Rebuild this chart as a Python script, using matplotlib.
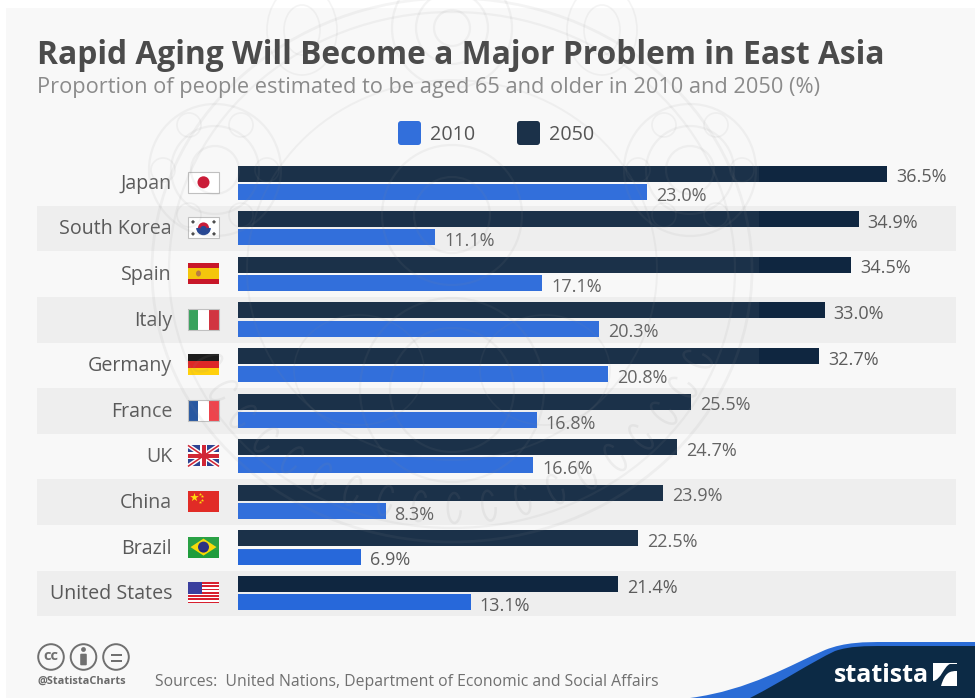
import numpy as np
import matplotlib
matplotlib.use("Agg")
import matplotlib.pyplot as plt
from matplotlib.patches import Rectangle, Circle, Ellipse, Arc, Polygon, FancyBboxPatch, PathPatch
from matplotlib.path import Path
from matplotlib.transforms import ScaledTranslation

countries = ["Japan", "South Korea", "Spain", "Italy", "Germany",
             "France", "UK", "China", "Brazil", "United States"]
share_2050 = [36.5, 34.9, 34.5, 33.0, 32.7, 25.5, 24.7, 23.9, 22.5, 21.4]
share_2010 = [23.0, 11.1, 17.1, 20.3, 20.8, 16.8, 16.6, 8.3, 6.9, 13.1]
series_names = ["2010", "2050"]

title = "Rapid Aging Will Become a Major Problem in East Asia"
subtitle = "Proportion of people estimated to be aged 65 and older in 2010 and 2050 (%)"
source = "Sources:  United Nations, Department of Economic and Social Affairs"
handle = "@StatistaCharts"

BLUE = "#2768da"
NAVY = "#0f2640"
W, H = 975, 698
FONT = "Open Sans"
plt.rcParams["font.family"] = [FONT, "DejaVu Sans"]

fig = plt.figure(figsize=(W / 100, H / 100), dpi=100, facecolor="white")


def pixel_axes(z):
    a = fig.add_axes([0, 0, 1, 1], zorder=z)
    a.set_xlim(0, W)
    a.set_ylim(H, 0)
    a.axis("off")
    a.patch.set_alpha(0)
    return a


back = pixel_axes(0)
back.add_patch(Rectangle((6, 8), W - 6, H - 8, fc="#f8f8f8", ec="none"))

ROW_TOP, ROW_H = 160.2, 45.6
row_mid = [ROW_TOP + ROW_H * (i + 0.5) for i in range(len(countries))]
for i in range(1, len(countries), 2):
    back.add_patch(Rectangle((37, ROW_TOP + ROW_H * i), 919, ROW_H, fc="#eeeeee", ec="none"))


# Flags, drawn into a 31 x 21 px box centred on (cx, cy)
def box(a, x, y, w, h, c):
    a.add_patch(Rectangle((x, y), w, h, fc=c, ec="none", zorder=2))


def flag(a, name, cx, cy):
    x, y, w, h = cx - 15.5, cy - 10.5, 31, 21
    if name == "Japan":
        box(a, x, y, w, h, "white")
        a.add_patch(Circle((cx, cy), 6, fc="#c8102e", ec="none", zorder=3))
    elif name == "South Korea":
        box(a, x, y, w, h, "white")
        a.add_patch(Circle((cx, cy), 5.5, fc="#c8102e", ec="none", zorder=3))
        a.add_patch(Arc((cx, cy), 11, 11, theta1=0, theta2=180, color="#1d3f8f", lw=2.6, zorder=3))
        a.add_patch(Circle((cx, cy + 1.4), 3.4, fc="#1d3f8f", ec="none", zorder=3))
        for dx in (-10.5, 10.5):
            for dy in (-6, 6):
                a.add_patch(Polygon([(cx + dx - 2, cy + dy), (cx + dx, cy + dy - 2),
                                     (cx + dx + 2, cy + dy), (cx + dx, cy + dy + 2)],
                                    fc="#444444", ec="none", zorder=3))
    elif name == "Spain":
        box(a, x, y, w, h, "#c60b1e")
        box(a, x, y + 5.2, w, 10.6, "#f4c300")
        a.add_patch(Ellipse((cx - 5, cy), 5, 6, fc="#b5763a", ec="none", zorder=3))
    elif name == "Italy":
        box(a, x, y, w / 3, h, "#2f9e55")
        box(a, x + w / 3, y, w / 3, h, "white")
        box(a, x + 2 * w / 3, y, w / 3, h, "#cf2b37")
    elif name == "Germany":
        box(a, x, y, w, h / 3, "#111111")
        box(a, x, y + h / 3, w, h / 3, "#dd1c1c")
        box(a, x, y + 2 * h / 3, w, h / 3, "#ffce00")
    elif name == "France":
        box(a, x, y, w / 3, h, "#1d4f9c")
        box(a, x + w / 3, y, w / 3, h, "white")
        box(a, x + 2 * w / 3, y, w / 3, h, "#ee3b43")
    elif name == "UK":
        box(a, x, y, w, h, "#24398c")
        clip = Rectangle((x, y), w, h, transform=a.transData)
        for lw, c in ((4.5, "white"), (1.6, "#cf1b2b")):
            for ends in (((x, x + w), (y, y + h)), ((x, x + w), (y + h, y))):
                a.plot(*ends, color=c, lw=lw * 0.72, zorder=3, solid_capstyle="butt", clip_path=clip)
        box(a, cx - 3.5, y, 7, h, "white")
        box(a, x, cy - 3.5, w, 7, "white")
        for r in ((cx - 2, y, 4, h), (x, cy - 2, w, 4)):
            a.add_patch(Rectangle(r[:2], r[2], r[3], fc="#cf1b2b", ec="none", zorder=4))
    elif name == "China":
        box(a, x, y, w, h, "#e0201b")
        a.scatter([x + 6], [y + 6], marker="*", s=42, c="#ffde00", linewidths=0, zorder=3)
        a.scatter([x + 12, x + 14, x + 14, x + 12], [y + 2.5, y + 5, y + 8.5, y + 11],
                  marker="*", s=6, c="#ffde00", linewidths=0, zorder=3)
    elif name == "Brazil":
        box(a, x, y, w, h, "#1f9c3c")
        a.add_patch(Polygon([(x + 2.5, cy), (cx, y + 2), (x + w - 2.5, cy), (cx, y + h - 2)],
                            fc="#f6d800", ec="none", zorder=3))
        a.add_patch(Circle((cx, cy), 5.5, fc="#23277c", ec="none", zorder=4))
    else:
        box(a, x, y, w, h, "white")
        for k in range(0, 13, 2):
            box(a, x, y + k * h / 13, w, h / 13, "#d8202f")
        a.add_patch(Rectangle((x, y), w * 0.45, h * 7 / 13, fc="#3a3f9e", ec="none", zorder=3))


for name, mid in zip(countries, row_mid):
    flag(back, name, 203.5, mid - 0.7)
    if name in ("Japan", "South Korea", "Italy", "France"):
        back.add_patch(Rectangle((188, mid - 11.2), 31, 21, fc="none", ec="#bdbdbd", lw=0.8, zorder=5))

# Horizontal bars on a value axis whose zero sits at the left bar edge
PX_PER_UNIT = 17.78
AX_LEFT = 238
ax = fig.add_axes([AX_LEFT / W, 1 - (ROW_TOP + ROW_H * 10) / H, (W - AX_LEFT) / W, ROW_H * 10 / H], zorder=1)
ax.patch.set_alpha(0)
ax.set_xlim(0, (W - AX_LEFT) / PX_PER_UNIT)
ax.set_ylim(9.5, -0.5)
y = np.arange(len(countries))
bar_h = 16 / ROW_H
ax.barh(y - 0.205, share_2050, height=bar_h, color=NAVY, linewidth=0)
ax.barh(y + 0.195, share_2010, height=bar_h, color=BLUE, linewidth=0)
for s in ax.spines.values():
    s.set_visible(False)
ax.set_xticks([])
ax.set_yticks(y, countries, fontsize=14.1, color="#595959", ha="right")
ax.tick_params(axis="y", length=0, pad=47.5)
lift = ScaledTranslation(0, 1.2 / 72, fig.dpi_scale_trans)
for tick_label in ax.get_yticklabels():
    tick_label.set_transform(tick_label.get_transform() + lift)

for yi, v2050, v2010 in zip(y, share_2050, share_2010):
    for v, dy in ((v2050, -0.205), (v2010, 0.195)):
        ax.annotate(f"{v:.1f}%", xy=(v, yi + dy), xytext=(6.4, -2.6), textcoords="offset points",
                    ha="left", va="center", fontsize=13, color="#5c5c5c")

# Page furniture: titles, legend, footer
top = pixel_axes(3)
top.text(37, 55, title, fontsize=22.85, fontweight="bold", color="#4b4b4b", va="center", ha="left")
top.text(37, 88, subtitle, fontsize=15.65, color="#8b8b8b", va="center", ha="left")

for lx, c, lab in ((398, BLUE, series_names[0]), (517, NAVY, series_names[1])):
    top.add_patch(FancyBboxPatch((lx + 2, 123), 19, 20, boxstyle="round,pad=2,rounding_size=3", fc=c, ec="none"))
    top.text(lx + 32, 134.5, lab, fontsize=14.2, color="#555555", va="center", ha="left")

# Faint university seal lying over the middle of the chart
SEAL_X, SEAL_Y = 452, 270
INK = "#8c8c8c"
clip_box = Rectangle((147, 0), 612, 550, transform=top.transData)
top.add_patch(Rectangle((147, 0), 612, 550, fc="white", ec="none", alpha=0.05))


def ink(p, lw=1.6, alpha=0.09):
    p.set(edgecolor=INK, facecolor="none", linewidth=lw, alpha=alpha)
    top.add_patch(p)
    p.set_clip_path(clip_box)


for rx, ry, lw in ((300, 272, 2.0), (283, 258, 1.6), (205, 190, 1.4)):
    ink(Ellipse((SEAL_X, SEAL_Y), rx * 2, ry * 2), lw=lw)
for cx, cy in ((215, 170), (690, 170)):
    for r in (66, 44, 24):
        ink(Circle((cx, cy), r))
    for ang in range(0, 360, 60):
        ink(Circle((cx + 52 * np.cos(np.radians(ang)), cy + 52 * np.sin(np.radians(ang))), 12), lw=1.2)
for r, yc in ((60, 28), (36, 28), (18, 28), (92, 390), (62, 390), (38, 215), (70, 215)):
    ink(Circle((SEAL_X, yc), r))
for dx in (-150, 150):
    ink(Ellipse((SEAL_X + dx, 30), 70, 90), lw=1.2)
    ink(Ellipse((SEAL_X + dx, 30), 36, 50), lw=1.2)
    ink(Ellipse((SEAL_X + dx * 0.62, 370), 130, 110), lw=1.2)
for ang in np.arange(22, 160, 7.5):
    ax_x = SEAL_X + 265 * np.cos(np.radians(ang))
    ax_y = SEAL_Y + 238 * np.sin(np.radians(ang))
    ink(Arc((ax_x, ax_y), 13, 30, angle=ang - 90, theta1=20, theta2=300), lw=1.8, alpha=0.11)

# Creative Commons marks
GREY = "#707070"
for cx in (51, 83.5, 116):
    top.add_patch(Circle((cx, 657), 12.8, fc="none", ec=GREY, lw=1.4))
top.text(51, 656.5, "cc", fontsize=10.5, fontweight="bold", color=GREY, ha="center", va="center")
top.add_patch(Circle((83.5, 649.5), 2.4, fc=GREY, ec="none"))
top.add_patch(FancyBboxPatch((80.5, 654), 6, 11, boxstyle="round,pad=0.3,rounding_size=1", fc=GREY, ec="none"))
for yy in (653.5, 659.5):
    top.add_patch(Rectangle((110.5, yy), 11, 2.6, fc=GREY, ec="none"))

top.text(37, 681, handle, fontsize=7.9, fontweight="bold", color="#6a6a6a", va="center", ha="left")
top.text(155, 682, source, fontsize=11.35, color="#707070", va="center", ha="left")

# Footer wave and brand mark
C, L = Path.CURVE4, Path.LINETO
wave_blue = Path([(690, 698), (750, 690), (790, 665), (825, 650), (845, 642), (865, 642), (885, 642),
                  (975, 642), (975, 698), (690, 698)],
                 [Path.MOVETO, C, C, C, C, C, C, L, L, Path.CLOSEPOLY])
wave_navy = Path([(750, 698), (785, 680), (810, 663), (835, 651), (850, 646), (865, 646), (885, 646),
                  (975, 646), (975, 698), (750, 698)],
                 [Path.MOVETO, C, C, C, C, C, C, L, L, Path.CLOSEPOLY])
top.add_patch(PathPatch(wave_blue, fc="#2a6cd6", ec="none"))
top.add_patch(PathPatch(wave_navy, fc="#0c2a45", ec="none"))
top.text(834, 676, "statista", fontsize=18, fontweight="bold", color="white", va="center", ha="left")
top.add_patch(Rectangle((933, 663), 24, 23, fc="white", ec="none"))
swoosh = Path([(933, 686), (941, 686), (945, 672), (950, 671), (957, 671), (957, 664), (950, 664),
               (944, 666), (941, 680), (933, 681), (933, 686)],
              [Path.MOVETO, L, C, C, L, L, L, C, C, L, Path.CLOSEPOLY])
top.add_patch(PathPatch(swoosh, fc="#0c2a45", ec="none"))

fig.savefig("out.png", dpi=100, facecolor="white")
